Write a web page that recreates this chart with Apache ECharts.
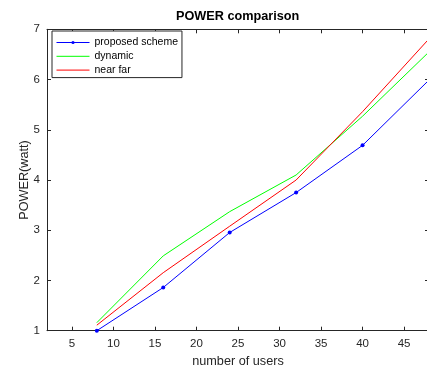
<!DOCTYPE html>
<html>
<head>
<meta charset="utf-8">
<script src="https://cdn.jsdelivr.net/npm/echarts@6/dist/echarts.min.js"></script>
<style>
html,body{margin:0;padding:0;background:#fff;}
#c{width:427px;height:369px;}
</style>
</head>
<body>
<div id="c"></div>
<script>
const users = [8, 16, 24, 32, 40, 48];
const proposedScheme = [1.0, 1.86, 2.955, 3.75, 4.69, 5.99];
const dynamicPower = [1.16, 2.49, 3.37, 4.10, 5.27, 6.55];
const nearFar = [1.11, 2.155, 3.08, 4.0, 5.36, 6.81];
const xTicks = [5, 10, 15, 20, 25, 30, 35, 40, 45];
const seriesNames = ['proposed scheme', 'dynamic', 'near far'];
const seriesColors = ['#0000ff', '#00ff00', '#ff0000'];

const axisColor = '#262626';
const font = 'Liberation Sans, Arial, sans-serif';

function pairs(ys) { return users.map((x, i) => [x, ys[i]]); }

const chart = echarts.init(document.getElementById('c'), null, {renderer: 'canvas'});
chart.setOption({
  animation: false,
  backgroundColor: '#fff',
  title: {
    text: 'POWER comparison',
    left: 176, top: 10, padding: 0,
    textStyle: {fontFamily: font, fontSize: 12.7, fontWeight: 'bold', color: '#000'}
  },
  grid: {left: 47, right: -2, top: 29.3, bottom: 38.3, containLabel: false, outerBoundsMode: 'none'},
  legend: {
    orient: 'vertical', left: 52, top: 31,
    padding: [6, 4, 2, 4], itemGap: 2.8, itemWidth: 33, itemHeight: 4,
    borderColor: axisColor, borderWidth: 1, backgroundColor: '#fff',
    lineStyle: {width: 1},
    textStyle: {fontFamily: font, fontSize: 10.5, color: '#000'},
    data: [
      {name: seriesNames[0], lineStyle: {color: seriesColors[0], width: 1}},
      {name: seriesNames[1], itemStyle: {opacity: 0}, lineStyle: {color: seriesColors[1], width: 1}},
      {name: seriesNames[2], itemStyle: {opacity: 0}, lineStyle: {color: seriesColors[2], width: 1}}
    ]
  },
  xAxis: [{
    type: 'value', min: 2, max: 48, position: 'bottom',
    name: 'number of users', nameLocation: 'middle', nameGap: 24, nameMoveOverlap: false,
    nameTextStyle: {fontFamily: font, fontSize: 12.7, color: axisColor},
    axisLine: {show: true, lineStyle: {color: axisColor, width: 1}},
    axisTick: {show: true, inside: true, length: 4, customValues: xTicks, lineStyle: {color: axisColor}},
    axisLabel: {show: true, customValues: xTicks, margin: 7, fontFamily: font, fontSize: 11.5, color: axisColor},
    splitLine: {show: false}
  }, {
    type: 'value', min: 2, max: 48, position: 'top',
    axisLine: {show: true, lineStyle: {color: axisColor, width: 1}},
    axisTick: {show: true, inside: true, length: 4, customValues: xTicks, lineStyle: {color: axisColor}},
    axisLabel: {show: false},
    splitLine: {show: false}
  }],
  yAxis: [{
    type: 'value', min: 1, max: 7, interval: 1, position: 'left',
    name: 'POWER(watt)', nameLocation: 'middle', nameGap: 16, nameMoveOverlap: false,
    nameTextStyle: {fontFamily: font, fontSize: 12.7, color: axisColor},
    axisLine: {show: true, lineStyle: {color: axisColor, width: 1}},
    axisTick: {show: true, inside: true, length: 4, lineStyle: {color: axisColor}},
    axisLabel: {margin: 7, fontFamily: font, fontSize: 11.5, color: axisColor},
    splitLine: {show: false}
  }, {
    type: 'value', min: 1, max: 7, interval: 1, position: 'right',
    axisLine: {show: true, lineStyle: {color: axisColor, width: 1}},
    axisTick: {show: true, inside: true, length: 4, lineStyle: {color: axisColor}},
    axisLabel: {show: false},
    splitLine: {show: false}
  }],
  series: [{
    name: seriesNames[0], type: 'line', data: pairs(proposedScheme),
    symbol: 'circle', symbolSize: 4, showSymbol: true,
    lineStyle: {color: seriesColors[0], width: 1}, itemStyle: {color: seriesColors[0]}
  }, {
    name: seriesNames[1], type: 'line', data: pairs(dynamicPower),
    symbol: 'none', showSymbol: false,
    lineStyle: {color: seriesColors[1], width: 1}, itemStyle: {color: seriesColors[1]}
  }, {
    name: seriesNames[2], type: 'line', data: pairs(nearFar),
    symbol: 'none', showSymbol: false,
    lineStyle: {color: seriesColors[2], width: 1}, itemStyle: {color: seriesColors[2]}
  }]
});
</script>
</body>
</html>
